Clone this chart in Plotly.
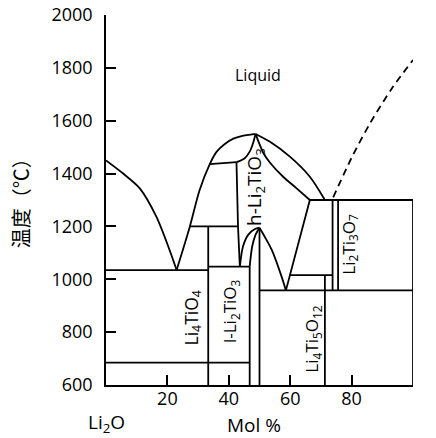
import plotly.graph_objects as go

# ---- curve data (x: mol % TiO2, y: temperature °C) ----
liq_left_x = [0, 5.5, 11, 16.4, 20.7, 23]
liq_left_y = [1450, 1401, 1344, 1237, 1111, 1035]

liq_mid_x = [23, 27.3, 30.5, 33.8, 36.0, 38.7, 41.5, 44.1, 48.7]
liq_mid_y = [1035, 1199, 1338, 1436, 1482, 1512, 1532, 1542, 1550]

sol_left_x = [42.5, 45.2, 46.8, 47.9, 48.7]
sol_left_y = [1443, 1458, 1483, 1515, 1550]

liq_right_x = [48.7, 53.3, 59.9, 66.4, 71.3]
liq_right_y = [1550, 1521, 1464, 1388, 1300]

sol_right_x = [48.7, 51.3, 53.5, 57.7, 62.0, 66.4]
sol_right_y = [1550, 1477, 1440, 1388, 1345, 1300]

dome_outer_x = [43.6, 44.6, 46.3, 48.5, 50.0]
dome_outer_y = [1048, 1123, 1168, 1190, 1195]

dome_inner_x = [46.8, 47.6, 48.7, 50.0]
dome_inner_y = [1048, 1123, 1168, 1195]

dome_right_x = [50.0, 51.7, 54.0, 57.2, 58.6]
dome_right_y = [1195, 1161, 1111, 1010, 958]

dashed_x = [74, 80, 86, 93, 100]
dashed_y = [1310, 1460, 1590, 1720, 1830]

# straight sloped segments
peri_x = [33.8, 42.5]
peri_y = [1436, 1443]
ss_left_x = [42.5, 43.0, 43.6]
ss_left_y = [1443, 1200, 1048]
ss_right_x = [58.6, 66.4]
ss_right_y = [958, 1300]

# horizontal lines
h_y = [1035, 685, 1200, 1048, 958, 1016, 1300]
h_x0 = [0, 0, 27.3, 33.3, 50.0, 59.7, 66.4]
h_x1 = [33.3, 46.8, 43.0, 46.8, 100, 73.8, 100]

# vertical lines
v_x = [33.3, 46.8, 50.0, 71.3, 73.8, 75.6, 100]
v_y0 = [600, 600, 600, 600, 958, 958, 600]
v_y1 = [1200, 1048, 1195, 1016, 1300, 1300, 1300]

x_ticks = [20, 40, 60, 80]
y_ticks = [600, 800, 1000, 1200, 1400, 1600, 1800, 2000]

FONT = "Open Sans"
LW = 1.8

fig = go.Figure()

def add_curve(x, y, spline=True, dash="solid"):
    fig.add_trace(go.Scatter(
        x=x, y=y, mode="lines", hoverinfo="skip", showlegend=False,
        line=dict(color="black", width=LW, dash=dash,
                  shape="spline" if spline else "linear", smoothing=0.8)))

for cx, cy in [(liq_left_x, liq_left_y), (liq_mid_x, liq_mid_y),
               (sol_left_x, sol_left_y), (liq_right_x, liq_right_y),
               (sol_right_x, sol_right_y), (dome_outer_x, dome_outer_y),
               (dome_inner_x, dome_inner_y), (dome_right_x, dome_right_y)]:
    add_curve(cx, cy)

add_curve(dashed_x, dashed_y, dash="7px,5px")
for cx, cy in [(peri_x, peri_y), (ss_left_x, ss_left_y), (ss_right_x, ss_right_y)]:
    add_curve(cx, cy, spline=False)

hx, hy = [], []
for y, a, b in zip(h_y, h_x0, h_x1):
    hx += [a, b, None]
    hy += [y, y, None]
add_curve(hx, hy, spline=False)

vx, vy = [], []
for x, a, b in zip(v_x, v_y0, v_y1):
    vx += [x, x, None]
    vy += [a, b, None]
add_curve(vx, vy, spline=False)

ann = []
def label(text, x, y, size, angle=0, xref="x", yref="y", family=FONT):
    ann.append(dict(text=text, x=x, y=y, xref=xref, yref=yref, showarrow=False,
                    textangle=angle, xanchor="center", yanchor="middle",
                    font=dict(family=family, size=size, color="black")))

label("Liquid", 49.4, 1773, 16)
label("h-Li<sub>2</sub>TiO<sub>3</sub>", 48.6, 1350, 19, -90)
label("Li<sub>4</sub>TiO<sub>4</sub>", 28.2, 854, 17.5, -90)
label("l-Li<sub>2</sub>TiO<sub>3</sub>", 40.4, 880, 17, -90)
label("Li<sub>4</sub>Ti<sub>5</sub>O<sub>12</sub>", 67.4, 775, 17, -90)
label("Li<sub>2</sub>Ti<sub>3</sub>O<sub>7</sub>", 79.4, 1134, 17, -90)
label("Li<sub>2</sub>O", 0.3, -0.103, 19, 0, xref="x", yref="paper")
label("TiO<sub>2</sub>", 100.3, -0.103, 19, 0, xref="x", yref="paper")
label("Mol %", 48.1, -0.108, 19, 0, xref="x", yref="paper")
label("温度（℃）", -0.28, 0.505, 20, -90, xref="paper", yref="paper",
      family="Noto Sans CJK SC")

# page body has an 8px default margin, so the figure is 8px smaller
fig.update_layout(
    width=428, height=430,
    margin=dict(l=98, r=23, t=7, b=53, autoexpand=False),
    plot_bgcolor="white", paper_bgcolor="white",
    annotations=ann,
    xaxis=dict(range=[0, 100], tickvals=x_ticks, ticks="inside", ticklen=10,
               tickwidth=1.5, tickcolor="black", showline=True, linecolor="black",
               linewidth=1.5, showgrid=False, zeroline=False, automargin=False,
               tickfont=dict(family=FONT, size=18, color="black"),
               ticklabelstandoff=-3, ticklabeloverflow="allow"),
    yaxis=dict(range=[600, 2000], tickvals=y_ticks, ticks="inside", ticklen=10,
               tickwidth=1.5, tickcolor="black", showline=True, linecolor="black",
               linewidth=1.5, showgrid=False, zeroline=False, automargin=False,
               tickfont=dict(family=FONT, size=18, color="black"),
               ticklabelstandoff=8, ticklabeloverflow="allow"),
)

fig.write_html("out.html")
